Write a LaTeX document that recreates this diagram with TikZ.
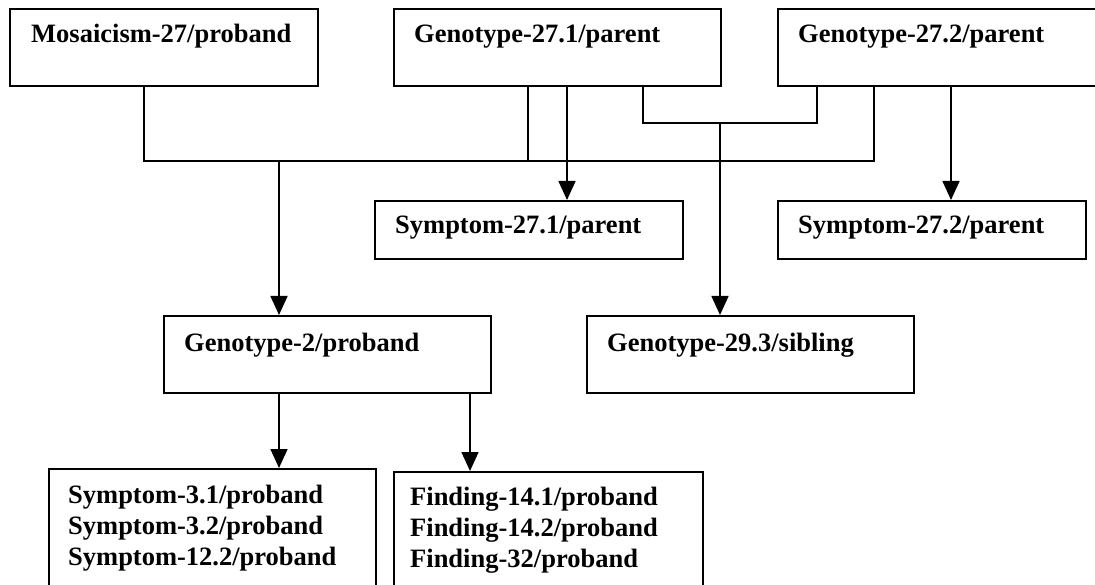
\documentclass[tikz,border=0pt]{standalone}
\usepackage{fontspec}
\setmainfont{Liberation Serif}
\usetikzlibrary{arrows.meta,calc}
\begin{document}
\begin{tikzpicture}[x=1pt,y=-1pt,
  box/.style={draw=black,line width=1.9pt,rectangle,inner sep=0pt,anchor=north west},
  lbl/.style={inner sep=0pt,anchor=base west,font=\fontsize{26.5}{31}\selectfont\bfseries,align=left},
  conn/.style={line width=1.6pt},
  arr/.style={line width=1.6pt,-{Triangle[width=17pt,length=19pt]}}]
\useasboundingbox (0,0) rectangle (1095,585);
% boxes
\node[box,minimum width=308pt,minimum height=77pt] (m) at (9,8) {};
\node[box,minimum width=327pt,minimum height=77pt] (g271) at (393,8) {};
\node[box,minimum width=320pt,minimum height=77pt] (g272) at (777,8) {};
\node[box,minimum width=308pt,minimum height=58pt] (s271) at (374,200) {};
\node[box,minimum width=308pt,minimum height=58pt] (s272) at (777,200) {};
\node[box,minimum width=327pt,minimum height=77pt] (g2) at (163,315) {};
\node[box,minimum width=327pt,minimum height=77pt] (g293) at (586,315) {};
\node[box,minimum width=327pt,minimum height=130pt] (s3) at (48,468) {};
\node[box,minimum width=309pt,minimum height=127pt] (f14) at (393,471) {};
% labels
\node[lbl] (tm) at (31,43) {Mosaicism-27/proband};
\node[lbl] (tg271) at (414,43) {Genotype-27.1/parent};
\node[lbl] (tg272) at (798,43) {Genotype-27.2/parent};
\node[lbl] (ts271) at (395,234) {Symptom-27.1/parent};
\node[lbl] (ts272) at (798,234) {Symptom-27.2/parent};
\node[lbl] (tg2) at (184,351) {Genotype-2/proband};
\node[lbl] (tg293) at (607,352) {Genotype-29.3/sibling};
\node[lbl] (ts31) at (68,503) {Symptom-3.1/proband};
\node[lbl] (ts32) at (68,534) {Symptom-3.2/proband};
\node[lbl] (ts122) at (68,565) {Symptom-12.2/proband};
\node[lbl] (tf141) at (410,505) {Finding-14.1/proband};
\node[lbl] (tf142) at (410,536) {Finding-14.2/proband};
\node[lbl] (tf32) at (410,567) {Finding-32/proband};
% connector points on the box edges
\coordinate (mA) at ($(m.south west)+(135,0)$);
\coordinate (g1A) at ($(g271.south west)+(135,0)$);
\coordinate (g1B) at ($(g271.south west)+(174,0)$);
\coordinate (g1C) at ($(g271.south west)+(250,0)$);
\coordinate (g2A) at ($(g272.south west)+(40,0)$);
\coordinate (g2B) at ($(g272.south west)+(97,0)$);
\coordinate (g2C) at ($(g272.south west)+(174,0)$);
\coordinate (pA) at ($(g2.south west)+(116,0)$);
\coordinate (pB) at ($(g2.south west)+(307,0)$);
% junctions
\coordinate (j1) at (279,161);
\coordinate (j2) at (720,123);
% connectors to Genotype-2
\draw[conn] (mA) |- (j1) -- (j1 -| g2B) -- (g2B);
\draw[conn] (g1A) -- (g1A |- j1);
\draw[arr] (j1) -- (j1 |- g2.north);
% connectors to Genotype-29.3
\draw[conn] (g1C) |- (j2) -- (j2 -| g2A) -- (g2A);
\draw[arr] (j2) -- (j2 |- g293.north);
% parents to their symptoms
\draw[arr] (g1B) -- (g1B |- s271.north);
\draw[arr] (g2C) -- (g2C |- s272.north);
% Genotype-2 to children
\draw[arr] (pA) -- (pA |- s3.north);
\draw[arr] (pB) -- (pB |- f14.north);
\end{tikzpicture}
\end{document}
